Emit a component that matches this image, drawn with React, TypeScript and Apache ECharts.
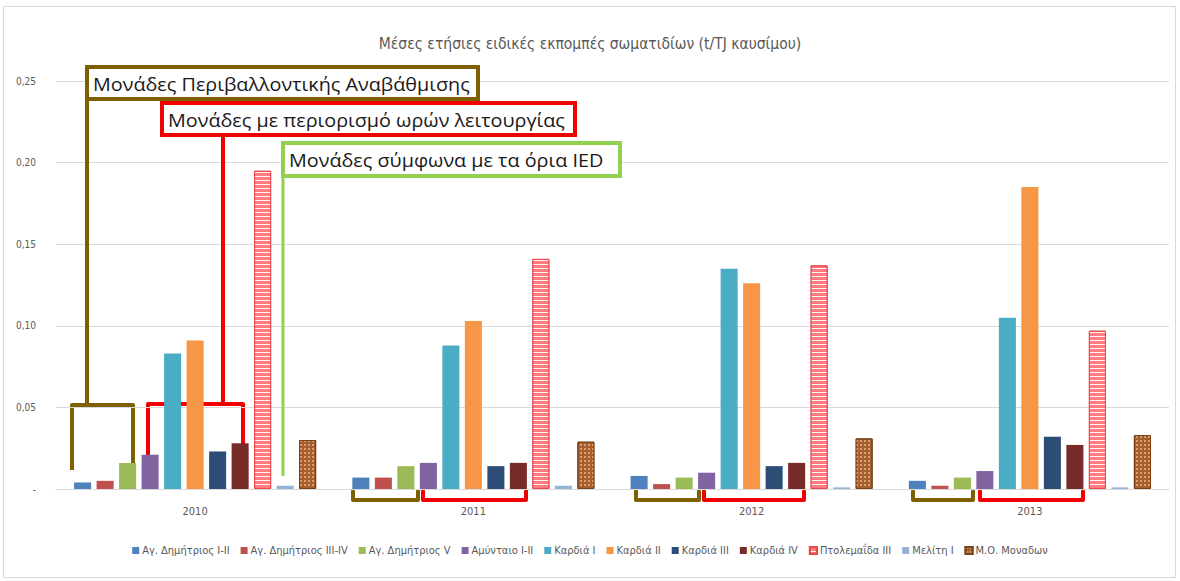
import React, { useEffect, useRef } from "react";
import * as echarts from "echarts";

const categories = ["2010", "2011", "2012", "2013"];
const seriesNames = [
  "Αγ. Δημήτριος I-II",
  "Αγ. Δημήτριος III-IV",
  "Αγ. Δημήτριος V",
  "Αμύνταιο I-II",
  "Καρδιά I",
  "Καρδιά II",
  "Καρδιά III",
  "Καρδιά IV",
  "Πτολεμαΐδα III",
  "Μελίτη I",
  "Μ.Ο. Μοναδων",
];
const agDimI_II = [0.004, 0.007, 0.008, 0.005];
const agDimIII_IV = [0.005, 0.007, 0.003, 0.002];
const agDimV = [0.016, 0.014, 0.007, 0.007];
const amyntaio = [0.021, 0.016, 0.01, 0.011];
const kardiaI = [0.083, 0.088, 0.135, 0.105];
const kardiaII = [0.091, 0.103, 0.126, 0.185];
const kardiaIII = [0.023, 0.014, 0.014, 0.032];
const kardiaIV = [0.028, 0.016, 0.016, 0.027];
const ptolemaida = [0.195, 0.141, 0.137, 0.097];
const meliti = [0.002, 0.002, 0.001, 0.001];
const mesosOros = [0.03, 0.029, 0.031, 0.033];
const seriesValues = [
  agDimI_II, agDimIII_IV, agDimV, amyntaio, kardiaI, kardiaII,
  kardiaIII, kardiaIV, ptolemaida, meliti, mesosOros,
];
const colors = [
  "#4F81BD", "#C0504D", "#9BBB59", "#8064A2", "#4BACC6", "#F79646",
  "#2C4D75", "#772C2A", "#FF7C80", "#95B3D7", "#A65E2E",
];
const titleText = "Μέσες ετήσιες ειδικές εκπομπές σωματιδίων (t/TJ καυσίμου)";
const box1Text = "Μονάδες Περιβαλλοντικής Αναβάθμισης";
const box2Text = "Μονάδες με περιορισμό ωρών λειτουργίας";
const box3Text = "Μονάδες σύμφωνα με τα όρια IED";

const NARROW = "'Liberation Sans Narrow', 'DejaVu Sans Condensed', 'Roboto Condensed', sans-serif";
const BOXFONT = "'Open Sans', 'Noto Sans', sans-serif";
const OLIVE = "#7F6000";
const RED = "#F00000";
const GREEN = "#92D050";

function bracketDown(x1: number, x2: number, yTop: number, yBot: number, color: string) {
  return {
    type: "polyline",
    silent: true,
    shape: { points: [[x1, yTop], [x1, yBot], [x2, yBot], [x2, yTop]], smooth: 0 },
    style: { stroke: color, lineWidth: 4, fill: null, lineJoin: "round", lineCap: "round" },
  };
}
function bracketUp(x1: number, x2: number, yTop: number, yBot: number, color: string) {
  return {
    type: "polyline",
    silent: true,
    shape: { points: [[x1, yBot], [x1, yTop], [x2, yTop], [x2, yBot]] },
    style: { stroke: color, lineWidth: 4, fill: null, lineJoin: "round", lineCap: "butt" },
  };
}
function box(x: number, y: number, w: number, h: number, color: string, text: string) {
  return [
    {
      type: "rect",
      silent: true,
      shape: { x, y, width: w, height: h },
      style: { fill: "#ffffff", stroke: color, lineWidth: 4 },
      z: 100,
    },
    {
      type: "text",
      silent: true,
      x: x + 6,
      y: y + h / 2 + 1,
      scaleX: 1.1,
      z: 101,
      style: {
        text,
        fill: "#1a1a1a",
        font: `18px ${BOXFONT}`,
        verticalAlign: "middle",
        align: "left",
      },
    },
  ];
}

export default function App() {
  const ref = useRef<HTMLDivElement>(null);
  useEffect(() => {
    if (!ref.current) return;
    const chart = echarts.init(ref.current, undefined, { renderer: "svg" });
    const series = seriesNames.map((name, i) => {
      const itemStyle: any = { color: colors[i] };
      if (i === 8) {
        itemStyle.borderColor = "#E8474C";
        itemStyle.borderWidth = 1;
        itemStyle.decal = {
          symbol: "rect",
          symbolSize: 1,
          dashArrayX: [1, 0],
          dashArrayY: [1, 2.5],
          color: "rgba(255,255,255,0.9)",
          rotation: 0,
        };
      }
      if (i === 10) {
        itemStyle.borderColor = "#7A4318";
        itemStyle.borderWidth = 1;
        itemStyle.decal = {
          symbol: "circle",
          symbolSize: 0.8,
          dashArrayX: [2, 1.5],
          dashArrayY: [2, 1.5],
          color: "rgba(250,205,160,0.95)",
          rotation: 0,
        };
      }
      return {
        name,
        type: "bar",
        data: seriesValues[i],
        itemStyle,
        barGap: "32%",
        barCategoryGap: "13%",
      };
    });

    const graphic: any[] = [
      {
        type: "rect",
        silent: true,
        shape: { x: 3.5, y: 6.5, width: 1172, height: 571 },
        style: { fill: null, stroke: "#D9D9D9", lineWidth: 1 },
        z: 0,
      },
      {
        type: "line",
        silent: true,
        shape: { x1: 87, y1: 90, x2: 87, y2: 405 },
        style: { stroke: OLIVE, lineWidth: 4 },
        z: 90,
      },
      bracketUp(72, 133, 405, 470, OLIVE),
      {
        type: "line",
        silent: true,
        shape: { x1: 223, y1: 130, x2: 223, y2: 404 },
        style: { stroke: RED, lineWidth: 4 },
        z: 90,
      },
      bracketUp(148, 243, 404, 469, RED),
      {
        type: "line",
        silent: true,
        shape: { x1: 283, y1: 170, x2: 283, y2: 476 },
        style: { stroke: GREEN, lineWidth: 3 },
        z: 90,
      },
      bracketDown(353, 418, 491, 500, OLIVE),
      bracketDown(423, 526, 491, 500, RED),
      bracketDown(636, 699, 491, 500, OLIVE),
      bracketDown(704, 804, 491, 500, RED),
      bracketDown(913, 973, 491, 500, OLIVE),
      bracketDown(980, 1083, 491, 500, RED),
      ...box(87, 67, 391, 32, OLIVE, box1Text),
      ...box(162, 103, 413, 32, RED, box2Text),
      ...box(283, 143, 337, 33, GREEN, box3Text),
    ];

    chart.setOption({
      animation: false,
      backgroundColor: "#ffffff",
      title: {
        text: titleText,
        left: "center",
        top: 31,
        textStyle: { fontSize: 15.5, fontWeight: "normal", color: "#595959", fontFamily: NARROW },
      },
      legend: {
        data: seriesNames,
        bottom: 20,
        left: "center",
        itemWidth: 7,
        itemHeight: 7,
        itemGap: 11,
        icon: "rect",
        textStyle: { fontSize: 11, color: "#595959", fontFamily: NARROW, padding: [0, 0, 0, -2] },
      },
      grid: { left: 56, right: 11, top: 81, bottom: 92, containLabel: false },
      xAxis: {
        type: "category",
        data: categories,
        axisLine: { lineStyle: { color: "#D9D9D9" } },
        axisTick: { show: false },
        axisLabel: { color: "#595959", fontSize: 11, fontFamily: NARROW, margin: 17 },
      },
      yAxis: {
        type: "value",
        min: 0,
        max: 0.25,
        interval: 0.05,
        axisLine: { show: false },
        axisTick: { show: false },
        splitLine: { lineStyle: { color: "#D9D9D9" } },
        axisLabel: {
          color: "#595959",
          fontSize: 10,
          fontFamily: NARROW,
          margin: 20,
          formatter: (v: number) => (v === 0 ? "-" : v.toFixed(2).replace(".", ",")),
        },
      },
      series,
      graphic,
    });
    return () => chart.dispose();
  }, []);
  return (
    <div
      ref={ref}
      style={{ position: "fixed", left: 0, top: 0, width: 1180, height: 581, background: "#fff" }}
    />
  );
}
